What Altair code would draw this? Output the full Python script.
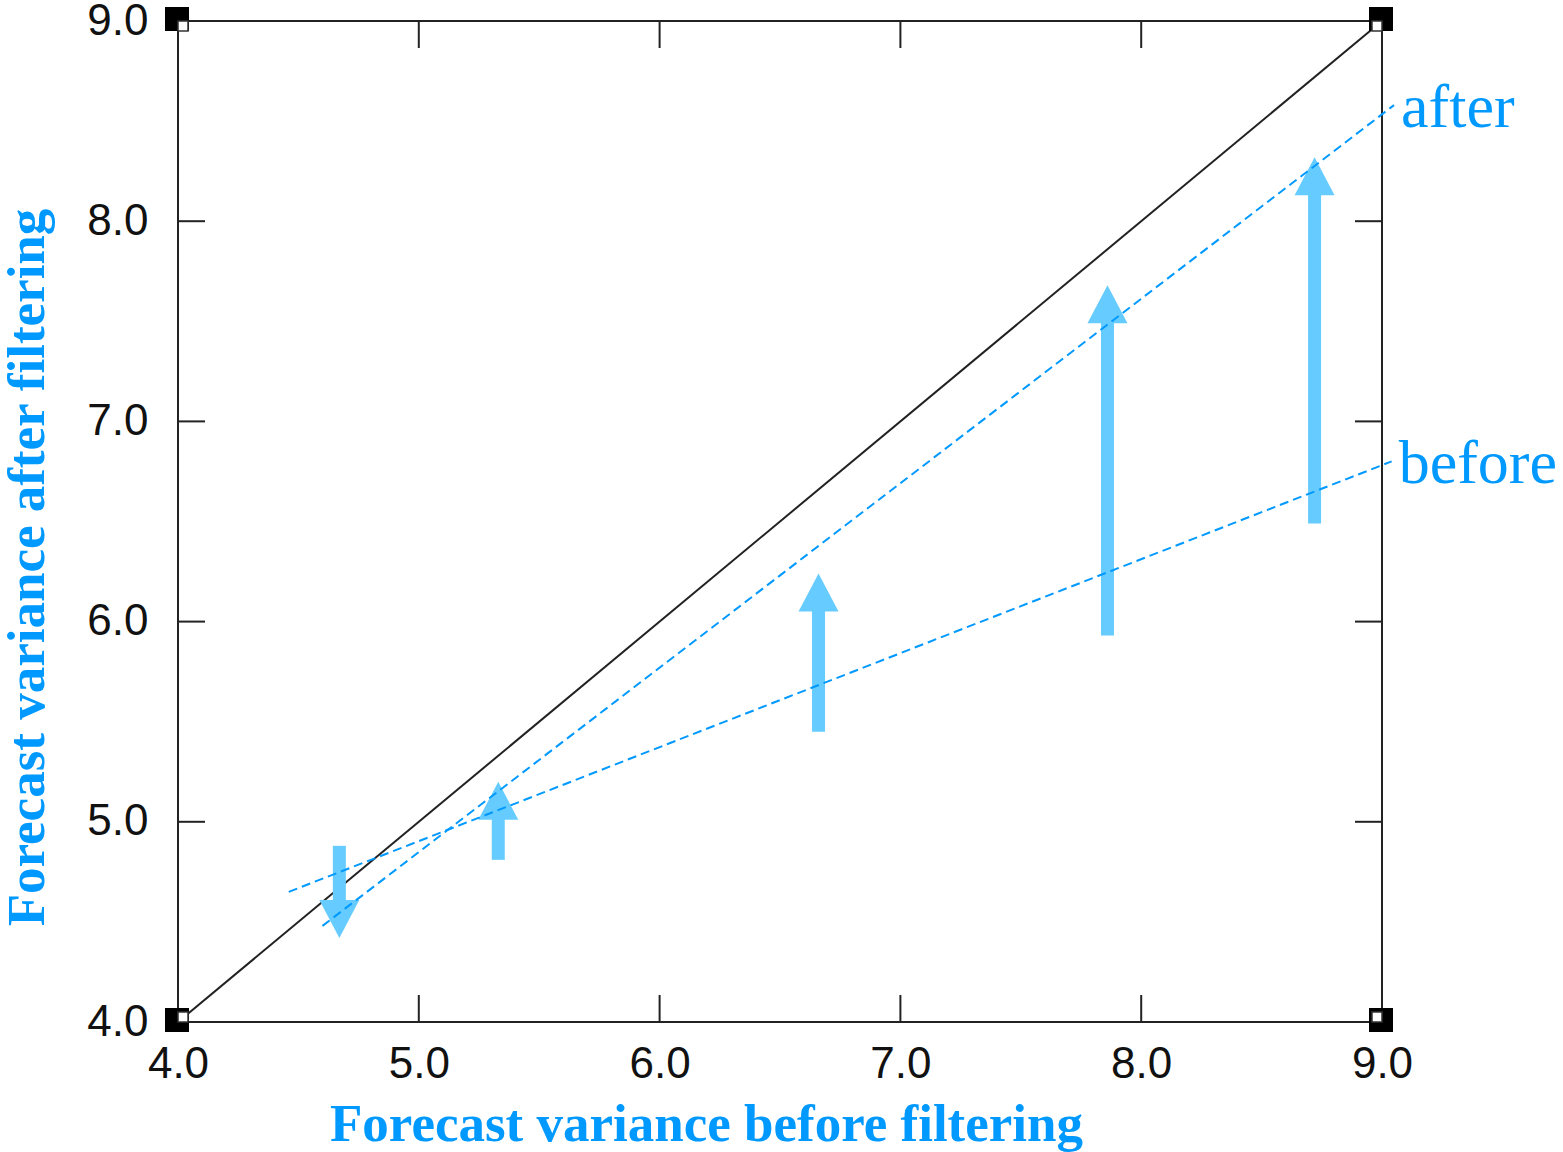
import altair as alt
import pandas as pd

# ---- data ----
tick_values = [4.0, 5.0, 6.0, 7.0, 8.0, 9.0]
inner_ticks = [5.0, 6.0, 7.0, 8.0]

diag_x = [4.0, 9.0]
diag_y = [4.0, 9.0]

after_x = [4.60, 9.05]
after_y = [4.48, 8.58]
before_x = [4.46, 9.04]
before_y = [4.65, 6.80]

arrow_x = [4.67, 5.33, 6.66, 7.86, 8.72]
arrow_from = [4.88, 4.81, 5.45, 5.93, 6.49]
arrow_to = [4.42, 5.20, 6.24, 7.68, 8.32]

label_text = ["after", "before"]
label_x = [after_x[1], before_x[1]]
label_y = [after_y[1], before_y[1]]

corner_x = [4.0, 9.0, 4.0, 9.0]
corner_y = [9.0, 9.0, 4.0, 4.0]
notch_shape = ["M0,0L1,0L1,1L0,1Z", "M0,0L-1,0L-1,1L0,1Z",
               "M0,0L1,0L1,-1L0,-1Z", "M0,0L-1,0L-1,-1L0,-1Z"]

BLUE = "#0099FF"
ARROW = "#66CCFF"
W, H = 1204, 1001

xs = alt.Scale(domain=[4, 9], nice=False, zero=False)
ys = alt.Scale(domain=[4, 9], nice=False, zero=False)

diag_df = pd.DataFrame({"x": diag_x, "y": diag_y})
dash_df = pd.DataFrame({
    "x": after_x + before_x,
    "y": after_y + before_y,
    "s": ["after"] * 2 + ["before"] * 2,
})
arrow_df = pd.DataFrame({"x": arrow_x, "y0": arrow_from, "y1": arrow_to})
label_df = pd.DataFrame({"t": label_text, "x": label_x, "y": label_y})
corner_df = pd.DataFrame({"x": corner_x, "y": corner_y, "p": notch_shape})
tick_df = pd.DataFrame({"v": inner_ticks})

x_axis = alt.Axis(
    values=tick_values, format=".1f", ticks=False, tickSize=0, domain=False, grid=False,
    labelFont="Liberation Sans", labelFontSize=44, labelColor="#111", labelPadding=20,
    labelFlush=False, labelOverlap=False,
    title="Forecast variance before filtering", titleFont="Liberation Serif",
    titleFontSize=53, titleFontWeight="bold", titleColor=BLUE,
    titleX=528, titleY=118, titleBaseline="alphabetic", titleAlign="center",
)
y_axis = alt.Axis(
    values=tick_values, format=".1f", ticks=False, tickSize=0, domain=False, grid=False,
    labelFont="Liberation Sans", labelFontSize=44, labelColor="#111", labelPadding=30,
    labelFlush=False, labelOverlap=False, labelBaseline="middle",
    title="Forecast variance after filtering", titleFont="Liberation Serif",
    titleFontSize=53, titleFontWeight="bold", titleColor=BLUE,
    titleX=-135, titleY=546, titleAngle=270, titleBaseline="alphabetic", titleAlign="center",
)


def X(f):
    return alt.X(f, scale=xs, axis=x_axis)


def Y(f):
    return alt.Y(f, scale=ys, axis=y_axis)


# arrows
up = arrow_df[arrow_df.y1 > arrow_df.y0]
down = arrow_df[arrow_df.y1 < arrow_df.y0]

shaft_up = alt.Chart(up).mark_rule(color=ARROW, strokeWidth=13, strokeCap="butt", y2Offset=36).encode(
    x=X("x:Q"), y=Y("y0:Q"), y2="y1:Q")
shaft_down = alt.Chart(down).mark_rule(color=ARROW, strokeWidth=13, strokeCap="butt", y2Offset=-36).encode(
    x=X("x:Q"), y=Y("y0:Q"), y2="y1:Q")
head_up = alt.Chart(up).mark_point(shape="M0,0L1,1.9L-1,1.9Z", size=1600, filled=True,
                                   color=ARROW, opacity=1, strokeWidth=0).encode(
    x=X("x:Q"), y=Y("y1:Q"))
head_down = alt.Chart(down).mark_point(shape="M0,0L1,-1.9L-1,-1.9Z", size=1600, filled=True,
                                       color=ARROW, opacity=1, strokeWidth=0).encode(
    x=X("x:Q"), y=Y("y1:Q"))

diag = alt.Chart(diag_df).mark_line(color="#222", strokeWidth=2).encode(
    x=X("x:Q"), y=Y("y:Q"))

dashed = alt.Chart(dash_df).mark_line(color=BLUE, strokeWidth=2, strokeDash=[9, 5]).encode(
    x=X("x:Q"), y=Y("y:Q"), detail="s:N")

labels = alt.Chart(label_df).mark_text(align="left", baseline="alphabetic", dx=7, dy=22,
                                       font="Liberation Serif", fontSize=62, color=BLUE).encode(
    x=X("x:Q"), y=Y("y:Q"), text="t:N")

tick_style = dict(color="#222", strokeWidth=2)
ticks_top = alt.Chart(tick_df).mark_rule(**tick_style).encode(
    x=X("v:Q"), y=alt.value(0), y2=alt.value(27))
ticks_bottom = alt.Chart(tick_df).mark_rule(**tick_style).encode(
    x=X("v:Q"), y=alt.value(H), y2=alt.value(H - 27))
ticks_left = alt.Chart(tick_df).mark_rule(**tick_style).encode(
    y=Y("v:Q"), x=alt.value(0), x2=alt.value(27))
ticks_right = alt.Chart(tick_df).mark_rule(**tick_style).encode(
    y=Y("v:Q"), x=alt.value(W), x2=alt.value(W - 27))

corners = alt.Chart(corner_df).mark_point(shape="square", size=576, filled=True, color="black",
                                          opacity=1, strokeWidth=0, xOffset=-1, yOffset=-2).encode(
    x=X("x:Q"), y=Y("y:Q"))
notches = alt.Chart(corner_df).mark_point(size=400, filled=True, fill="white", stroke="#333",
                                          strokeWidth=1.5, opacity=1).encode(
    x=X("x:Q"), y=Y("y:Q"),
    shape=alt.Shape("p:N", scale=None))

chart = alt.layer(
    diag, shaft_up, shaft_down, head_up, head_down, ticks_top, ticks_bottom, ticks_left, ticks_right,
    dashed, labels, corners, notches,
).properties(
    width=W, height=H,
    autosize=alt.AutoSizeParams(type="none"),
    padding={"left": 178, "top": 21, "right": 181, "bottom": 130},
    background="white",
).configure_view(stroke="#222", strokeWidth=2)

chart.save("out.html", embed_options={"renderer": "svg", "actions": False})
